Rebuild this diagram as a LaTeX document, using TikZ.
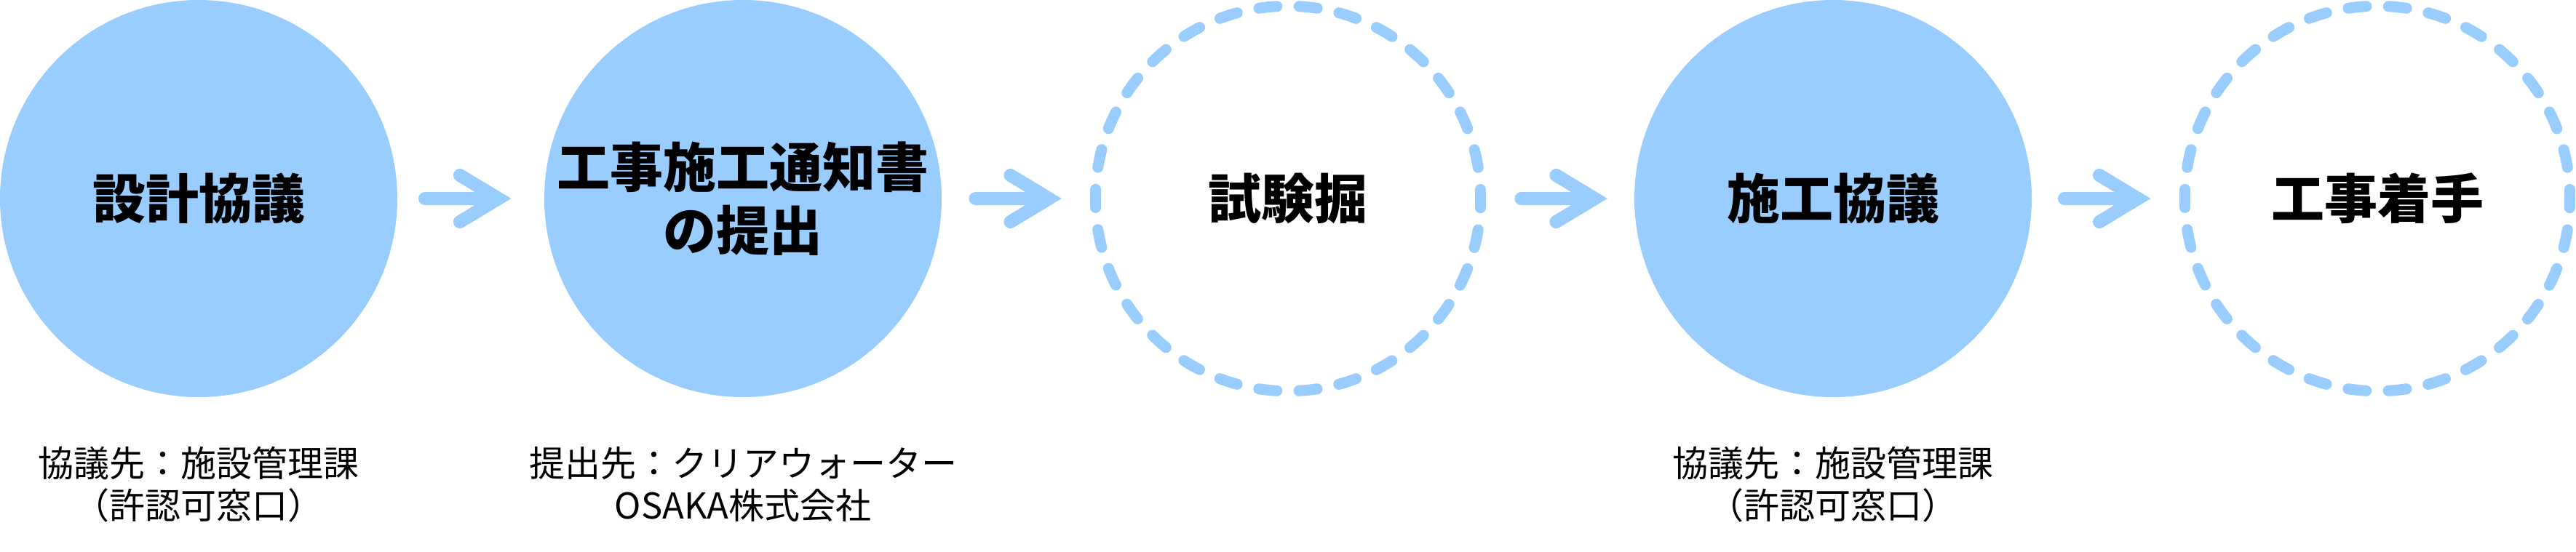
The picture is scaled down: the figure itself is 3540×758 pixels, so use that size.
\documentclass[tikz,border=0pt]{standalone}
\usepackage{fontspec}
\setmainfont{Noto Sans CJK JP}
\usetikzlibrary{calc}
\definecolor{lb}{RGB}{153,204,255}
\tikzset{
  fillcirc/.style={circle, fill=lb, draw=none, minimum size=546pt, inner sep=0pt,
    align=center, font=\fontsize{73}{87}\selectfont\bfseries, text=black},
  dashcirc/.style={circle, draw=none, minimum size=529.4pt, inner sep=0pt,
    align=center, font=\fontsize{73}{87}\selectfont\bfseries, text=black},
  dashring/.style={draw=lb, line width=15pt, line cap=round,
    dash pattern=on 25pt off 30.44pt, dash phase=12.5pt},
  sublabel/.style={align=center, font=\fontsize{49}{58.5}\selectfont, text=black, inner sep=0pt},
  arr/.style={draw=lb, line width=18pt, line cap=round, line join=miter}
}
\begin{document}
\begin{tikzpicture}[x=1pt,y=-1pt]
\useasboundingbox (0,0) rectangle (3540,758);
\node[fillcirc] (c1) at (273,273) {設計協議};
\node[fillcirc] (c2) at (1021,273) {工事施工通知書\\の提出};
\node[dashcirc] (c3) at (1770,273) {試験掘};
\node[fillcirc] (c4) at (2519,273) {施工協議};
\node[dashcirc] (c5) at (3267,273) {工事着手};
\draw[dashring] (c3.center) circle[radius=264.7pt];
\draw[dashring] (c5.center) circle[radius=264.7pt];

\node[sublabel] (l1) at (273,666) {協議先：施設管理課\\（許認可窓口）};
\node[sublabel] (l2) at (1021,666) {提出先：クリアウォーター\\OSAKA株式会社};
\node[sublabel] (l4) at (2519,666) {協議先：施設管理課\\（許認可窓口）};

\coordinate (t1) at (685,273);
\coordinate (t2) at (1441.5,273);
\coordinate (t3) at (2191.5,273);
\coordinate (t4) at (2938,273);
\foreach \t in {t1,t2,t3,t4}{
  \draw[arr] ([xshift=-101pt]\t) -- (\t)
             ([shift={(-53pt,32pt)}]\t) -- (\t) -- ([shift={(-53pt,-32pt)}]\t);
}
\end{tikzpicture}
\end{document}
